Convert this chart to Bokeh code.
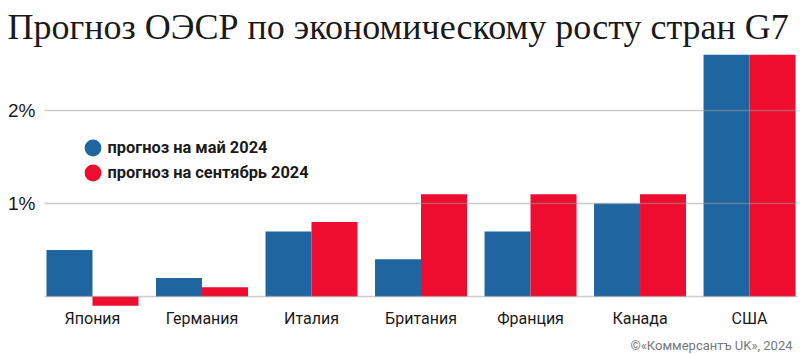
from bokeh.plotting import figure
from bokeh.models import ColumnDataSource, Range1d, Legend, LegendItem, Label
from bokeh.transform import dodge
from bokeh.core.properties import value
from bokeh.embed import file_html
from bokeh.resources import INLINE

# ---- data ----
countries = ["Япония", "Германия", "Италия", "Британия", "Франция", "Канада", "США"]
may_2024 = [0.5, 0.2, 0.7, 0.4, 0.7, 1.0, 2.6]
sep_2024 = [-0.1, 0.1, 0.8, 1.1, 1.1, 1.1, 2.6]
y_ticks = [0, 1, 2]
y_tick_labels = ["", "1%", "2%"]
legend_labels = ["прогноз на май 2024", "прогноз на сентябрь 2024"]
title_text = "Прогноз ОЭСР по экономическому росту стран G7"
credit_text = "©«Коммерсантъ UK», 2024"

# ---- style / layout ----
BLUE = "#1f66a0"
RED = "#ee0d2e"
TXT = "#1a1a1a"
SANS = "Roboto"
X_START, X_END = -0.84, 6.438      # visible x span (category index units)
GRID_X0 = -0.438                   # where the horizontal rules begin

src = ColumnDataSource(dict(pos=list(range(len(countries))), country=countries,
                            may=may_2024, sep=sep_2024))

p = figure(width=800, height=355, output_backend="svg", toolbar_location=None,
           x_range=Range1d(X_START, X_END), y_range=Range1d(-0.634, 2.645),
           x_axis_location=None, y_axis_location=None,
           min_border_left=0, min_border_right=3,
           min_border_top=0, min_border_bottom=0, outline_line_color=None,
           background_fill_color="white", border_fill_color="white")
p.grid.visible = False

p.title.text = title_text
p.title.text_font = "Liberation Serif"
p.title.text_font_style = "normal"
p.title.text_font_size = "36px"
p.title.text_color = TXT
p.title.align = "left"
p.title.offset = 7
p.title.standoff = 8

p.vbar(x=dodge("pos", -0.21, range=p.x_range), top="may", bottom=0, width=0.42,
       source=src, fill_color=BLUE, line_color=None)
p.vbar(x=dodge("pos", 0.21, range=p.x_range), top="sep", bottom=0, width=0.42,
       source=src, fill_color=RED, line_color=None)

# horizontal rules drawn over the bars, tick labels sitting on them
grid_src = ColumnDataSource(dict(y=y_ticks, x0=[GRID_X0] * len(y_ticks),
                                 x1=[X_END] * len(y_ticks)))
p.segment(x0="x0", y0="y", x1="x1", y1="y", source=grid_src, line_color="#999999",
          line_alpha=0.5, line_width=1.5, level="overlay")
for t, lab in zip(y_ticks, y_tick_labels):
    if lab:
        p.add_layout(Label(x=35, y=t, x_units="screen", text=lab, text_align="right",
                           text_baseline="alphabetic", text_font="Liberation Sans",
                           text_font_size="19px", text_color=TXT))

p.text(x="pos", y=0, text="country", source=src, text_font=value(SANS),
       text_font_size="16px", text_align="center", text_baseline="middle",
       y_offset=22, text_color=TXT)

# legend proxies (kept outside the visible ranges; only their legend swatches show)
r1 = p.ellipse(x=[-10], y=[-10], width=17, height=17, width_units="screen",
               height_units="screen", fill_color=BLUE, line_color=None)
r2 = p.ellipse(x=[-10], y=[-10], width=17, height=17, width_units="screen",
               height_units="screen", fill_color=RED, line_color=None)
legend = Legend(items=[LegendItem(label=legend_labels[0], renderers=[r1]),
                       LegendItem(label=legend_labels[1], renderers=[r2])],
                location=(81.5, 172.5), orientation="vertical",
                glyph_width=21, glyph_height=21, label_height=21,
                label_standoff=5, spacing=4, padding=0, margin=0,
                border_line_color=None, background_fill_alpha=0,
                label_text_font=SANS, label_text_font_style="bold",
                label_text_font_size="16.4px", label_text_color=TXT)
p.add_layout(legend)

p.add_layout(Label(x=792, y=10, x_units="screen", y_units="screen", text=credit_text,
                   text_align="right", text_baseline="middle", text_font=SANS,
                   text_font_size="13px", text_color="#777777"))

open("out.html", "w").write(file_html(p, INLINE))
